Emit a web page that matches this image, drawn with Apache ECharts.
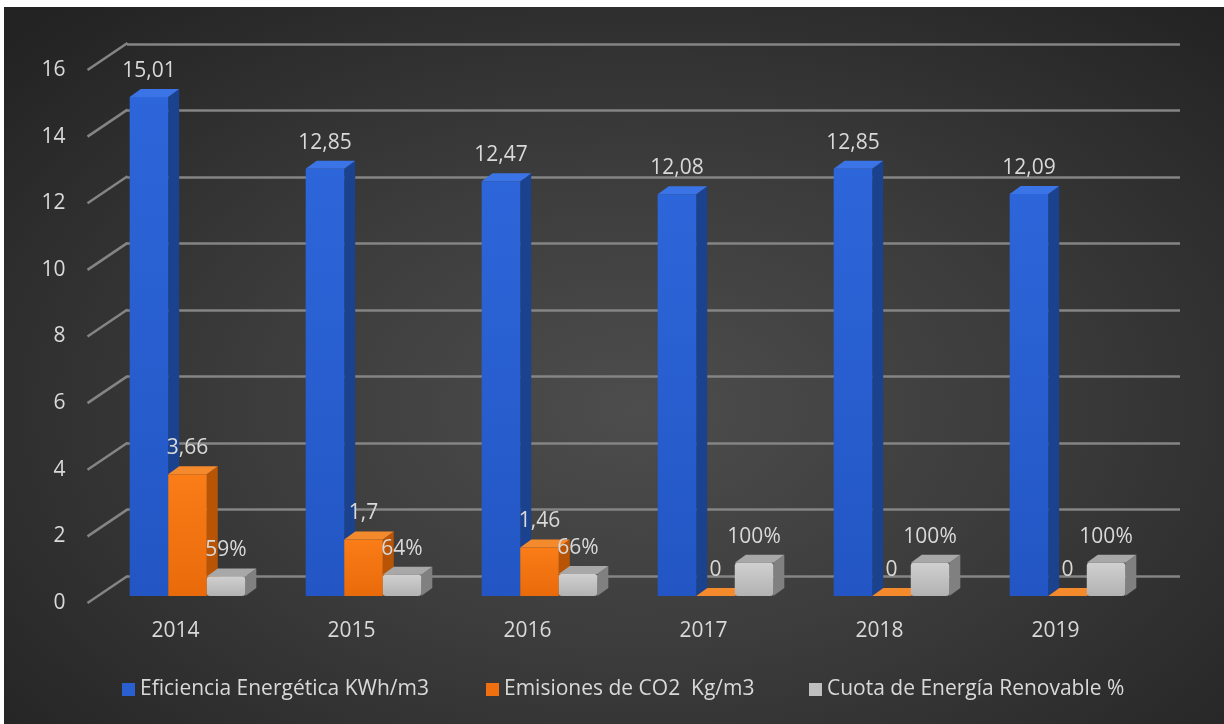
<!DOCTYPE html>
<html><head><meta charset="utf-8">
<script src="https://cdn.jsdelivr.net/npm/echarts@6/dist/echarts.min.js"></script>
<style>
html,body{margin:0;padding:0;background:#fff;width:1224px;height:724px;overflow:hidden}
#bg{position:absolute;left:4px;top:7px;width:1220px;height:717px;background:radial-gradient(ellipse 70% 75% at 52% 56%, #4d4d4d 0%, #3c3c3c 45%, #232323 100%)}
#main{position:absolute;left:0;top:0;width:1224px;height:724px}
</style></head><body><div id="bg"></div><div id="main"></div>
<script>
const categories = ['2014','2015','2016','2017','2018','2019'];
const eficiencia = [15.01, 12.85, 12.47, 12.08, 12.85, 12.09];
const emisiones = [3.66, 1.7, 1.46, 0, 0, 0];
const cuota = [0.59, 0.64, 0.66, 1, 1, 1];
const yTicks = [0, 2, 4, 6, 8, 10, 12, 14, 16];
const seriesNames = ['Eficiencia Energética KWh/m3', 'Emisiones de CO2  Kg/m3', 'Cuota de Energía Renovable %'];

const FONT = '"Open Sans", "DejaVu Sans", sans-serif';
const FS = 21;
const TXT = '#d9d9d9';

const palettes = [
  {front:['#2d66da','#2356c4'], side:'#1b428f', top:'#3a74e6', legend:'#2a5fd0'},
  {front:['#fb7d18','#e86a0a'], side:'#b85406', top:'#f58a2c', legend:'#f07010'},
  {front:['#d0d0d0','#b2b2b2'], side:'#808080', top:'#a8a8a8', legend:'#bfbfbf'}
];

function fmtComma(v){ return String(v).replace('.', ','); }
function fmtPct(v){ return Math.round(v*100) + '%'; }

function bar3d(sIdx, fmt){
  const pal = palettes[sIdx];
  return function(params, api){
    const cat = api.value(0), v = api.value(1);
    const band = api.size([1, 0])[0];
    const w = band * 0.219;
    const base = api.coord([cat, 0]);
    const top = api.coord([cat, v]);
    const x0 = base[0] + (sIdx - 1.5) * w;
    const x1 = x0 + w;
    const dx = 11, dy = -8;
    const yt = top[1], yb = base[1];
    const r = sIdx === 2 ? 3 : 0;
    const children = [
      {type:'polygon', z2: sIdx*4+1, shape:{points:[[x1,yt],[x1+dx,yt+dy],[x1+dx,yb+dy],[x1,yb]]}, style:{fill:pal.side}},
      {type:'polygon', z2: sIdx*4+2, shape:{points:[[x0,yt],[x0+dx,yt+dy],[x1+dx,yt+dy],[x1,yt]]}, style:{fill:pal.top}},
      {type:'rect', z2: sIdx*4+3, shape:{x:x0, y:yt, width:w, height:Math.max(yb-yt,0), r:r}, style:{fill:new echarts.graphic.LinearGradient(0,0,0,1,[{offset:0,color:pal.front[0]},{offset:1,color:pal.front[1]}])}},
      {type:'text', z2: 100, style:{text: fmt(v), x: x0 + w/2, y: yt - 26, align:'center', verticalAlign:'middle', fill: TXT, font: FS + 'px ' + FONT}}
    ];
    return {type:'group', children: children};
  };
}

const chart = echarts.init(document.getElementById('main'), null, {renderer:'canvas'});
const legendBase = {orient:'horizontal', padding:0, itemWidth:13, itemHeight:13, icon:'rect', itemGap:10, top:679,
  textStyle:{color:TXT, fontSize:FS, fontFamily:FONT}};
chart.setOption({
  backgroundColor:'transparent',
  animation:false,
  textStyle:{fontFamily:FONT},
  grid:[
    {left:127, top:44, width:1053, height:532},
    {left:99.5, top:64, width:1056, height:532},
    {left:87.5, top:70, width:1056, height:533}
  ],
  xAxis:[
    {gridIndex:0, type:'value', min:0, max:1, show:false},
    {gridIndex:1, type:'category', data:categories, show:false},
    {gridIndex:2, type:'category', data:categories, axisLine:{show:false}, axisTick:{show:false},
      axisLabel:{color:TXT, fontSize:FS, fontFamily:FONT, margin:18}}
  ],
  yAxis:[
    {gridIndex:0, type:'value', min:0, max:16, interval:2, axisLabel:{show:false}, axisLine:{show:false}, axisTick:{show:false},
      splitLine:{show:true, lineStyle:{color:'#858585', width:2.5}}},
    {gridIndex:1, type:'value', min:0, max:16, interval:2, show:false, splitLine:{show:false}},
    {gridIndex:2, type:'value', min:0, max:16, interval:2, axisLine:{show:false}, axisTick:{show:false}, splitLine:{show:false},
      axisLabel:{color:TXT, fontSize:FS, fontFamily:FONT, margin:22}}
  ],
  legend:[
    Object.assign({}, legendBase, {left:122, data:[seriesNames[0]]}),
    Object.assign({}, legendBase, {left:486, data:[seriesNames[1]]}),
    Object.assign({}, legendBase, {left:809, data:[seriesNames[2]]})
  ],
  series:[
    {type:'custom', name:'diag', xAxisIndex:2, yAxisIndex:2, coordinateSystem:'cartesian2d',
      data: yTicks.map(v => [0, v]), renderItem: function(params, api){
        const p = api.coord([0, api.value(1)]);
        const left = p[0] - api.size([1,0])[0]/2;
        return {type:'line', shape:{x1:left, y1:p[1], x2:left+40, y2:p[1]-27}, style:{stroke:'#858585', lineWidth:2.5}};
      }, silent:true, z:1},
    {type:'custom', name:seriesNames[0], xAxisIndex:1, yAxisIndex:1, itemStyle:{color:palettes[0].legend},
      data: eficiencia.map((v,i)=>[i,v]), renderItem: bar3d(0, fmtComma), z:2},
    {type:'custom', name:seriesNames[1], xAxisIndex:1, yAxisIndex:1, itemStyle:{color:palettes[1].legend},
      data: emisiones.map((v,i)=>[i,v]), renderItem: bar3d(1, fmtComma), z:2},
    {type:'custom', name:seriesNames[2], xAxisIndex:1, yAxisIndex:1, itemStyle:{color:palettes[2].legend},
      data: cuota.map((v,i)=>[i,v]), renderItem: bar3d(2, fmtPct), z:2}
  ]
});
</script></body></html>
